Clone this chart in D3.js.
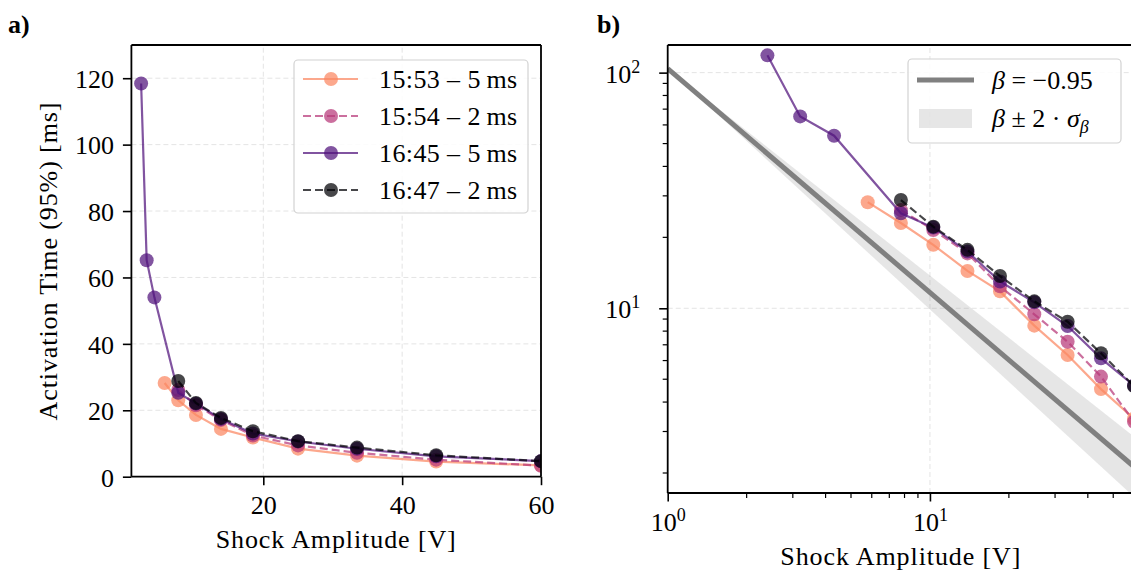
<!DOCTYPE html>
<html><head><meta charset="utf-8">
<script src="https://cdn.jsdelivr.net/npm/d3@7"></script>
<style>
body{margin:0;background:#fff;}
svg{display:block;font-family:"Liberation Serif","Times New Roman",serif;}
svg text{font-family:"Liberation Serif","Times New Roman",serif;}
</style></head><body>
<svg id="c" width="1131" height="571"></svg>
<script>
// ---------------- data ----------------
const amplitudes = [2.40, 3.20, 4.31, 5.79, 7.75, 10.3, 13.9, 18.5, 25.0, 33.5, 44.9, 60.0];
const seriesNames = ["15:53 \u2013 5\u2009ms", "15:54 \u2013 2\u2009ms", "16:45 \u2013 5\u2009ms", "16:47 \u2013 2\u2009ms"];
const s1553 = [null, null, null, 28.2, 23.0, 18.6, 14.4, 11.8, 8.44, 6.34, 4.54, 3.40];
const s1554 = [null, null, null, null, 26.1, 21.5, 17.1, 12.4, 9.43, 7.21, 5.13, 3.30];
const s1645 = [118.4, 65.2, 54.0, null, 25.3, 22.0, 17.4, 13.0, 10.6, 8.41, 6.13, 4.70];
const s1647 = [null, null, null, null, 28.8, 22.2, 17.7, 13.7, 10.7, 8.77, 6.44, 4.68];
const fitBeta = -0.95;
const fitSigma = 0.036;
const fitPrefactor = 104;
const xLimits = [1, 60];
const yLimitsA = [0, 130];
const yLimitsB = [1.645, 131];
const xTicksA = [20, 40, 60];
const yTicksA = [0, 20, 40, 60, 80, 100, 120];
const xMajorB = [1, 10];
const yMajorB = [10, 100];
const panelLabels = ["a)", "b)"];
const xAxisLabel = "Shock Amplitude [V]";
const yAxisLabel = "Activation Time (95%) [ms]";

// ---------------- styles ----------------
const colors = ["#fb8761", "#b73779", "#51127c", "#000004"];
const dashed = [false, true, false, true];
const ALPHA = 0.72;
const FS = 26;
const DASH = "8,4";
const R = 7;

const svg = d3.select("#c");
const series = [s1553, s1554, s1645, s1647].map((vals, i) => ({
  name: seriesNames[i], color: colors[i], dashed: dashed[i],
  pts: amplitudes.map((x, j) => ({x, y: vals[j]})).filter(d => d.y != null)
}));

function drawPanel(g, cfg) {
  const {x, y, id} = cfg;
  const [x0, x1] = x.range(), [y0, y1] = y.range();
  const defs = svg.append("defs");
  defs.append("clipPath").attr("id", id).append("rect")
    .attr("x", x0).attr("y", y1).attr("width", x1 - x0).attr("height", y0 - y1);
  // grid
  const grid = g.append("g").attr("stroke", "#e4e4e4").attr("stroke-width", 1).attr("stroke-dasharray", "5,3");
  cfg.xGrid.forEach(v => grid.append("line").attr("x1", x(v)).attr("x2", x(v)).attr("y1", y0).attr("y2", y1));
  cfg.yGrid.forEach(v => grid.append("line").attr("y1", y(v)).attr("y2", y(v)).attr("x1", x0).attr("x2", x1));
  const plot = g.append("g").attr("clip-path", `url(#${id})`);
  if (cfg.fit) cfg.fit(plot);
  // series
  series.forEach(s => {
    const sg = plot.append("g");
    sg.append("path").datum(s.pts)
      .attr("d", d3.line().x(d => x(d.x)).y(d => y(d.y)))
      .attr("fill", "none").attr("stroke", s.color).attr("stroke-opacity", ALPHA)
      .attr("stroke-width", 2.2).attr("stroke-dasharray", s.dashed ? DASH : null);
    sg.selectAll("circle").data(s.pts).join("circle")
      .attr("cx", d => x(d.x)).attr("cy", d => y(d.y)).attr("r", R)
      .attr("fill", s.color).attr("fill-opacity", ALPHA);
  });
  // axes
  const ax = g.append("g").attr("transform", `translate(0,${y0})`).call(cfg.xAxis);
  const ay = g.append("g").attr("transform", `translate(${x0},0)`).call(cfg.yAxis);
  [ax, ay].forEach(a => {
    a.attr("font-family", null).attr("font-size", null);
    a.select(".domain").remove();
    a.selectAll("line").attr("stroke", "#000");
    a.selectAll("text").attr("fill", "#000").attr("font-size", FS);
  });
  // spines
  const sp = g.append("g").attr("stroke", "#000").attr("stroke-width", 1.8).attr("fill", "none");
  sp.append("line").attr("x1", x0).attr("x2", x0).attr("y1", y0).attr("y2", y1);
  sp.append("line").attr("x1", x0).attr("x2", x1).attr("y1", y0).attr("y2", y0);
  sp.append("line").attr("x1", x0).attr("x2", x1).attr("y1", y1).attr("y2", y1);
  sp.append("line").attr("x1", x1).attr("x2", x1).attr("y1", y0).attr("y2", y1);
}

// ---------------- panel a ----------------
const xa = d3.scaleLinear().domain(xLimits).range([131.4, 541]);
const ya = d3.scaleLinear().domain(yLimitsA).range([476.7, 45]);
const ga = svg.append("g");
drawPanel(ga, {
  id: "clipA", x: xa, y: ya, xGrid: xTicksA, yGrid: yTicksA,
  xAxis: a => { a.call(d3.axisBottom(xa).tickValues(xTicksA).tickSize(8.5).tickPadding(10).tickFormat(d3.format("d")));
    a.selectAll(".tick line").attr("stroke-width", 1.6); },
  yAxis: a => { a.call(d3.axisLeft(ya).tickValues(yTicksA).tickSize(8.5).tickPadding(9).tickFormat(d3.format("d")));
    a.selectAll(".tick line").attr("stroke-width", 1.6);
    a.selectAll(".tick text").attr("dy", "0.36em"); }
});
ga.append("text").attr("x", (131.4 + 541) / 2).attr("y", 548).attr("text-anchor", "middle")
  .attr("font-size", FS).attr("letter-spacing", 0.9).text(xAxisLabel);
ga.append("text").attr("transform", "translate(57,261) rotate(-90)").attr("text-anchor", "middle")
  .attr("font-size", FS).attr("letter-spacing", 0.9).text(yAxisLabel);
ga.append("text").attr("x", 8).attr("y", 33).attr("font-size", FS).attr("font-weight", "bold").text(panelLabels[0]);

// legend a
{
  const lg = ga.append("g");
  lg.append("rect").attr("x", 294).attr("y", 60).attr("width", 234).attr("height", 153).attr("rx", 4)
    .attr("fill", "#fff").attr("fill-opacity", 0.85).attr("stroke", "#d2d2d2").attr("stroke-width", 1.2);
  series.forEach((s, i) => {
    const cy = 79 + i * 37;
    lg.append("line").attr("x1", 303).attr("x2", 358).attr("y1", cy).attr("y2", cy)
      .attr("stroke", s.color).attr("stroke-opacity", ALPHA).attr("stroke-width", 2.2)
      .attr("stroke-dasharray", s.dashed ? DASH : null);
    lg.append("circle").attr("cx", 331).attr("cy", cy).attr("r", R).attr("fill", s.color).attr("fill-opacity", ALPHA);
    lg.append("text").attr("x", 379).attr("y", cy + 9).attr("font-size", FS).attr("letter-spacing", 0.4).text(s.name);
  });
}

// ---------------- panel b ----------------
const xb = d3.scaleLog().domain(xLimits).range([667.7, 1134]);
const yb = d3.scaleLog().domain(yLimitsB).range([493, 45]);
const gb = svg.append("g");
const minorX = d3.range(2, 10).flatMap(m => [m, m * 10]).filter(v => v < xLimits[1]);
const minorY = d3.range(2, 10).flatMap(m => [m, m * 10]).filter(v => v > yLimitsB[0] && v < yLimitsB[1]);

function supLabel(sel, exp) {
  sel.text(null);
  sel.append("tspan").text("10");
  sel.append("tspan").attr("font-size", 18).attr("dy", -10).text(exp);
}

drawPanel(gb, {
  id: "clipB", x: xb, y: yb, xGrid: [10], yGrid: yMajorB,
  fit: plot => {
    const fx = xLimits;
    const band = d3.area().x(d => xb(d))
      .y0(d => yb(fitPrefactor * Math.pow(d, fitBeta - 2 * fitSigma)))
      .y1(d => yb(fitPrefactor * Math.pow(d, fitBeta + 2 * fitSigma)));
    plot.append("path").datum(fx).attr("d", band).attr("fill", "#808080").attr("fill-opacity", 0.2);
    plot.append("path").datum(fx)
      .attr("d", d3.line().x(d => xb(d)).y(d => yb(fitPrefactor * Math.pow(d, fitBeta))))
      .attr("fill", "none").attr("stroke", "#808080").attr("stroke-width", 5);
  },
  xAxis: a => {
    a.call(d3.axisBottom(xb).tickValues(xMajorB).tickSize(8.5).tickPadding(11));
    a.selectAll(".tick line").attr("stroke-width", 1.6);
    a.selectAll(".tick text").each(function(d) { supLabel(d3.select(this), String(Math.round(Math.log10(d)))); });
    a.selectAll(".minor").data(minorX).join("line").attr("class", "minor")
      .attr("x1", d => xb(d)).attr("x2", d => xb(d)).attr("y1", 0).attr("y2", 5).attr("stroke", "#000").attr("stroke-width", 1.2);
  },
  yAxis: a => {
    a.call(d3.axisLeft(yb).tickValues(yMajorB).tickSize(8.5).tickPadding(19));
    a.selectAll(".tick line").attr("stroke-width", 1.6);
    a.selectAll(".tick text").attr("dy", "0.36em").each(function(d) { supLabel(d3.select(this), String(Math.round(Math.log10(d)))); });
    a.selectAll(".minor").data(minorY).join("line").attr("class", "minor")
      .attr("y1", d => yb(d)).attr("y2", d => yb(d)).attr("x1", 0).attr("x2", -5).attr("stroke", "#000").attr("stroke-width", 1.2);
  }
});
gb.append("text").attr("x", (667.7 + 1134) / 2).attr("y", 565).attr("text-anchor", "middle")
  .attr("font-size", FS).attr("letter-spacing", 0.9).text(xAxisLabel);
gb.append("text").attr("x", 597).attr("y", 33).attr("font-size", FS).attr("font-weight", "bold").text(panelLabels[1]);

// legend b
{
  const lg = gb.append("g");
  lg.append("rect").attr("x", 908).attr("y", 59).attr("width", 213).attr("height", 84).attr("rx", 4)
    .attr("fill", "#fff").attr("fill-opacity", 0.85).attr("stroke", "#d2d2d2").attr("stroke-width", 1.2);
  lg.append("line").attr("x1", 917).attr("x2", 974).attr("y1", 80).attr("y2", 80)
    .attr("stroke", "#808080").attr("stroke-width", 5);
  lg.append("rect").attr("x", 919).attr("y", 109).attr("width", 53).attr("height", 19)
    .attr("fill", "#808080").attr("fill-opacity", 0.2);
  const t1 = lg.append("text").attr("x", 992).attr("y", 89).attr("font-size", FS);
  t1.append("tspan").attr("font-style", "italic").text("\u03b2");
  t1.append("tspan").text(" = \u22120.95");
  const t2 = lg.append("text").attr("x", 992).attr("y", 127).attr("font-size", FS);
  t2.append("tspan").attr("font-style", "italic").text("\u03b2");
  t2.append("tspan").text(" \u00b1 2 \u00b7 ");
  t2.append("tspan").attr("font-style", "italic").text("\u03c3");
  t2.append("tspan").attr("font-style", "italic").attr("font-size", 18).attr("dy", 6).text("\u03b2");
}
</script>
</body></html>
